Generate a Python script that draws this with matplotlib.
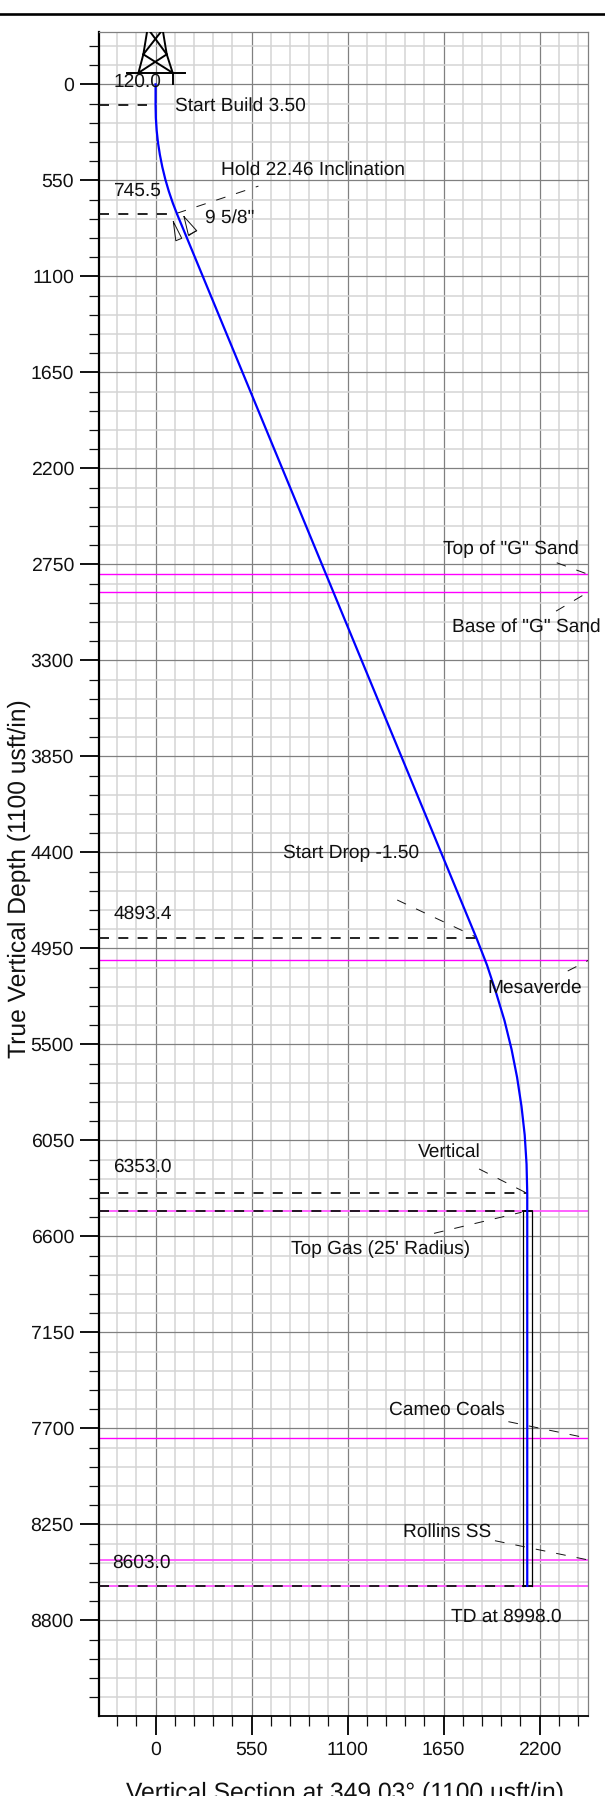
import numpy as np
import matplotlib
matplotlib.use("Agg")
import matplotlib.pyplot as plt

# ------------------------------------------------------------
# Dados
# ------------------------------------------------------------
# trajetória do poço: seção vertical x profundidade
well_vs = [0, 0, 1.5, 6.2, 13.9, 24.9, 38.8, 55.8, 75.7, 98.7, 124, 1839, 1898.7, 1951, 1998.8,
           2039, 2070.9, 2096, 2114.5, 2125, 2129, 2129]
well_tvd = [0, 120, 191, 263, 334, 404, 474, 544, 612, 680, 745.5, 4893.4, 5046.6, 5206, 5364.4,
            5528, 5689.8, 5855, 6019.9, 6186, 6353, 8603]

# formações (linhas magenta)
form_thin = [2807, 2910, 5019, 7757]
form_thick = [6453, 8454, 8603]

# marcadores tracejados: profundidade e até onde vão
kick_tvd = [120, 745.5, 4893.4, 6353, 6453, 8603]
kick_end = [-50, 124, 1839, 2129, 2129, 2129]

# alvo (raio de 25')
target_vs = [2104, 2154]
target_tvd = [6453, 8603]

# linhas de chamada: x0, y0, x1, y1
leaders = [
    (121, 739, 589, 583),
    (188, 868, 283, 805),
    (2298, 2741, 2477, 2807),
    (2294, 3018, 2477, 2910),
    (1384, 4673, 1839, 4887),
    (2361, 5080, 2479, 5019),
    (1853, 6214, 2129, 6354),
    (1595, 6583, 2097, 6462),
    (2021, 7662, 2477, 7757),
    (1944, 8344, 2477, 8454),
]

# textos: rótulo, x, y
labels = [
    ("120.0", -242, -15),
    ("Start Build 3.50", 112, 122),
    ("Hold 22.46 Inclination", 373, 491),
    ("745.5", -242, 611),
    ('9 5/8"', 283, 767),
    ('Top of "G" Sand', 1645, 2663),
    ('Base of "G" Sand', 1700, 3107),
    ("Start Drop -1.50", 730, 4404),
    ("4893.4", -242, 4754),
    ("Mesaverde", 1900, 5175),
    ("Vertical", 1501, 6118),
    ("6353.0", -242, 6204),
    ("Top Gas (25' Radius)", 776, 6672),
    ("Cameo Coals", 1339, 7595),
    ("Rollins SS", 1416, 8292),
    ("8603.0", -247, 8470),
    ("TD at 8998.0", 1692, 8779),
]

x_major = [0, 550, 1100, 1650, 2200]
x_minor = [-220, -110, 110, 220, 330, 440, 660, 770, 880, 990, 1210, 1320, 1430, 1540,
           1760, 1870, 1980, 2090, 2310, 2420]
y_major = [0, 550, 1100, 1650, 2200, 2750, 3300, 3850, 4400, 4950, 5500, 6050, 6600, 7150,
           7700, 8250, 8800]
y_minor = [v for v in range(-220, 9350, 110) if v % 550 != 0]

# torre de perfuração (segmentos)
derrick = [
    ([-165, 168], [-66, -66]),
    ([98, 98], [-66, 0]),
    ([-98, -70, -49], [-66, -172, -300]),
    ([98, 64, 43], [-66, -172, -300]),
    ([-98, 64], [-66, -172]),
    ([98, -70], [-66, -172]),
    ([-70, 30], [-172, -300]),
    ([64, -30], [-172, -300]),
]

# símbolo do revestimento 9 5/8"
shoe_left_vs = [102, 150, 116, 102]
shoe_left_tvd = [787, 882, 896, 787]
shoe_right_vs = [163, 236, 188, 163]
shoe_right_tvd = [758, 839, 863, 758]

# ------------------------------------------------------------
# Figura
# ------------------------------------------------------------
plt.rcParams['font.family'] = ['Liberation Sans', 'DejaVu Sans']
plt.rcParams['lines.scale_dashes'] = False
plt.rcParams['text.hinting'] = 'none'

W, H = 605, 1796
fig = plt.figure(figsize=(W / 100, H / 100), dpi=100)
ax = fig.add_axes([99 / W, 1 - 1716.3 / H, (588 - 99) / W, (1716.3 - 32) / H])
ax.set_xlim(-324, 2477)
ax.set_ylim(9350, -300)

# grade
ax.set_xticks(x_major)
ax.set_yticks(y_major)
ax.set_xticks(x_minor, minor=True)
ax.set_yticks(y_minor, minor=True)
ax.grid(True, which='minor', color='#d4d4d4', linewidth=1.1, zorder=0)
ax.grid(True, which='major', color='#808080', linewidth=0.9, zorder=1)
ax.set_axisbelow(True)

ax.tick_params(axis='both', which='major', length=14, width=1.4, labelsize=14, pad=4, color='#111111',
               labelcolor='#111111')
ax.tick_params(axis='both', which='minor', length=7, width=0.9, color='#111111')

ax.spines['left'].set_linewidth(1.6)
ax.spines['bottom'].set_linewidth(1.3)
ax.spines['top'].set_color('#808080')
ax.spines['right'].set_color('#808080')
ax.spines['top'].set_linewidth(0.9)
ax.spines['right'].set_linewidth(0.9)

# formações
for y in form_thin:
    ax.axhline(y, color='#ff00ff', linewidth=1.0, zorder=2)
for y in form_thick:
    ax.axhline(y, color='#ff55ff', linewidth=1.3, zorder=2)

# tracejados dos pontos de inflexão
for y, xf in zip(kick_tvd, kick_end):
    ax.plot([-324, xf], [y, y], color='#111111', linewidth=1.3, linestyle=(0, (7.2, 6.7)), zorder=3)

# alvo
for xv in target_vs:
    ax.plot([xv, xv], target_tvd, color='black', linewidth=0.9, zorder=3)
ax.plot(target_vs, [target_tvd[0]] * 2, color='black', linewidth=1.3, zorder=3)
ax.plot(target_vs, [target_tvd[1]] * 2, color='black', linewidth=1.3, zorder=3)

# chamadas
for x0, y0, x1, y1 in leaders:
    ax.plot([x0, x1], [y0, y1], color='#111111', linewidth=0.7, linestyle=(0, (7, 8)), zorder=3)

# revestimento
ax.plot(shoe_left_vs, shoe_left_tvd, color='#111111', linewidth=0.7, zorder=3)
ax.plot(shoe_right_vs, shoe_right_tvd, color='#111111', linewidth=0.7, zorder=3)

# torre
for xs, ys in derrick:
    ax.plot(xs, ys, color='black', linewidth=1.4, zorder=4)

# poço
ax.plot(well_vs, well_tvd, color='#0000ff', linewidth=1.6, zorder=5)

for txt, x, y in labels:
    ax.text(x, y, txt, fontsize=13.8, color='#111111', ha='left', va='center', zorder=6)

# rótulos dos eixos
fig.text(19.5 / W, 1 - 879 / H, "True Vertical Depth (1100 usft/in)", rotation=90, fontsize=17.7,
         ha='center', va='center', color='#111111')
fig.text(344.5 / W, 1 - 1800 / H, "Vertical Section at 349.03° (1100 usft/in)", fontsize=17.7,
         ha='center', va='baseline', color='#111111')

# linha superior da página
fig.add_artist(plt.Line2D([0, 1], [1 - 13.5 / H] * 2, color='black', linewidth=1.9))

fig.savefig("out.png", dpi=100)
